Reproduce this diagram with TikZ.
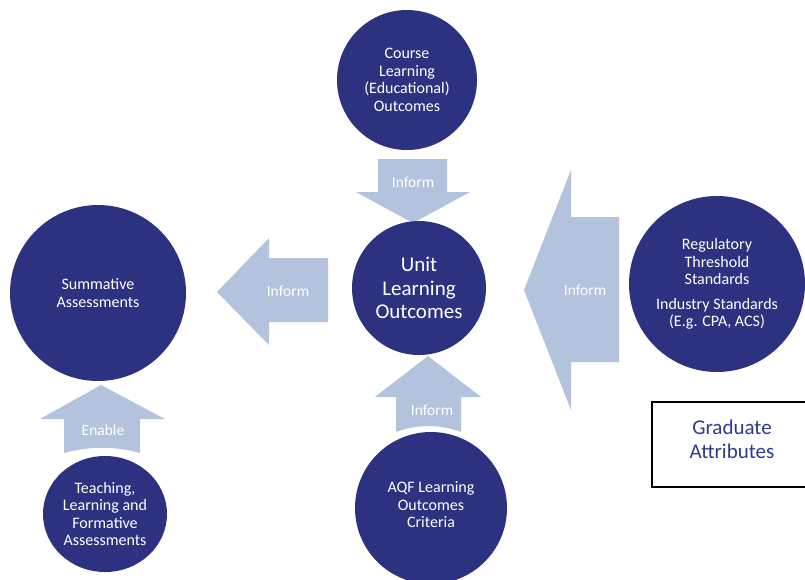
\documentclass[tikz,border=0pt]{standalone}
\usepackage{fontspec}
\setmainfont{Carlito}
\usetikzlibrary{shapes.geometric}
\definecolor{circblue}{HTML}{2D3280}
\definecolor{arrblue}{HTML}{B3C3DE}
\definecolor{gatext}{HTML}{2E3A8C}
\begin{document}
\begin{tikzpicture}[x=1pt,y=-1pt,
  circ/.style={circle, fill=circblue, text=white, align=center, inner sep=0pt,
    font=\fontsize{16}{17.5}\selectfont},
  blockarrow/.style={fill=arrblue, draw=none},
  arrlabel/.style={text=white, inner sep=0pt, font=\fontsize{15.5}{17}\selectfont}]
\useasboundingbox (0,0) rectangle (805,579);
\fill[white] (0,0) rectangle (805,579);

% block arrows
\fill[blockarrow] (378,159) -- (447,159) -- (447,192) -- (470,192) -- (413,223) -- (356,192) -- (378,192) -- cycle;
\fill[blockarrow] (328,258) -- (269,258) -- (269,238) -- (217,292) -- (269,345) -- (269,322) -- (328,322) -- cycle;
\fill[blockarrow] (619,217) -- (571,217) -- (571,170) -- (524,290) -- (571,410) -- (571,362) -- (619,362) -- cycle;
\fill[blockarrow] (396,432) -- (396,397) -- (375,397) -- (428,356) -- (481,397) -- (461,397) -- (461,432) .. controls (440,424) and (417,424) .. (396,432) -- cycle;
\fill[blockarrow] (64,453) -- (64,419) -- (40,419) -- (101,385) -- (165,419) -- (140,419) -- (140,453) .. controls (115,446) and (90,446) .. (64,453) -- cycle;

% circles
\node[circ, minimum size=140pt] (course) at (407,80) {Course\\Learning\\(Educational)\\Outcomes};
\node[circ, minimum size=134pt, font=\fontsize{21}{23.5}\selectfont] (unit) at (419,288) {Unit\\Learning\\Outcomes};
\node[circ, minimum size=176pt, font=\fontsize{16}{18.5}\selectfont] (summ) at (98,293) {Summative\\Assessments};
\node[circ, minimum size=176pt] (reg) at (717,284) {Regulatory\\Threshold\\Standards\\[7pt]Industry Standards\\(E.g. CPA, ACS)};
\node[circ, minimum size=152pt] (aqf) at (431,508) {};
\node[text=white, align=center, inner sep=0pt, font=\fontsize{16}{17.5}\selectfont] (aqftext) at (431,505) {AQF Learning\\Outcomes\\Criteria};
\node[ellipse, fill=circblue, minimum width=124pt, minimum height=116pt, inner sep=0pt] (teach) at (105,514) {};
\node[text=white, align=center, inner sep=0pt, font=\fontsize{16}{17.5}\selectfont] (teachtext) at (105,514) {Teaching,\\Learning and\\Formative\\Assessments};

% arrow labels
\node[arrlabel] (inf1) at (413,182) {Inform};
\node[arrlabel] (inf2) at (288,291) {Inform};
\node[arrlabel] (inf3) at (585,290) {Inform};
\node[arrlabel] (inf4) at (432,410) {Inform};
\node[arrlabel] (enable) at (103,430) {Enable};

% graduate attributes box
\draw[black, line width=1.6pt] (652,402) rectangle (810,487);
\node[text=gatext, align=center, inner sep=0pt, font=\fontsize{21}{24}\selectfont] (grad) at (732,439) {Graduate\\Attributes};
\end{tikzpicture}
\end{document}
